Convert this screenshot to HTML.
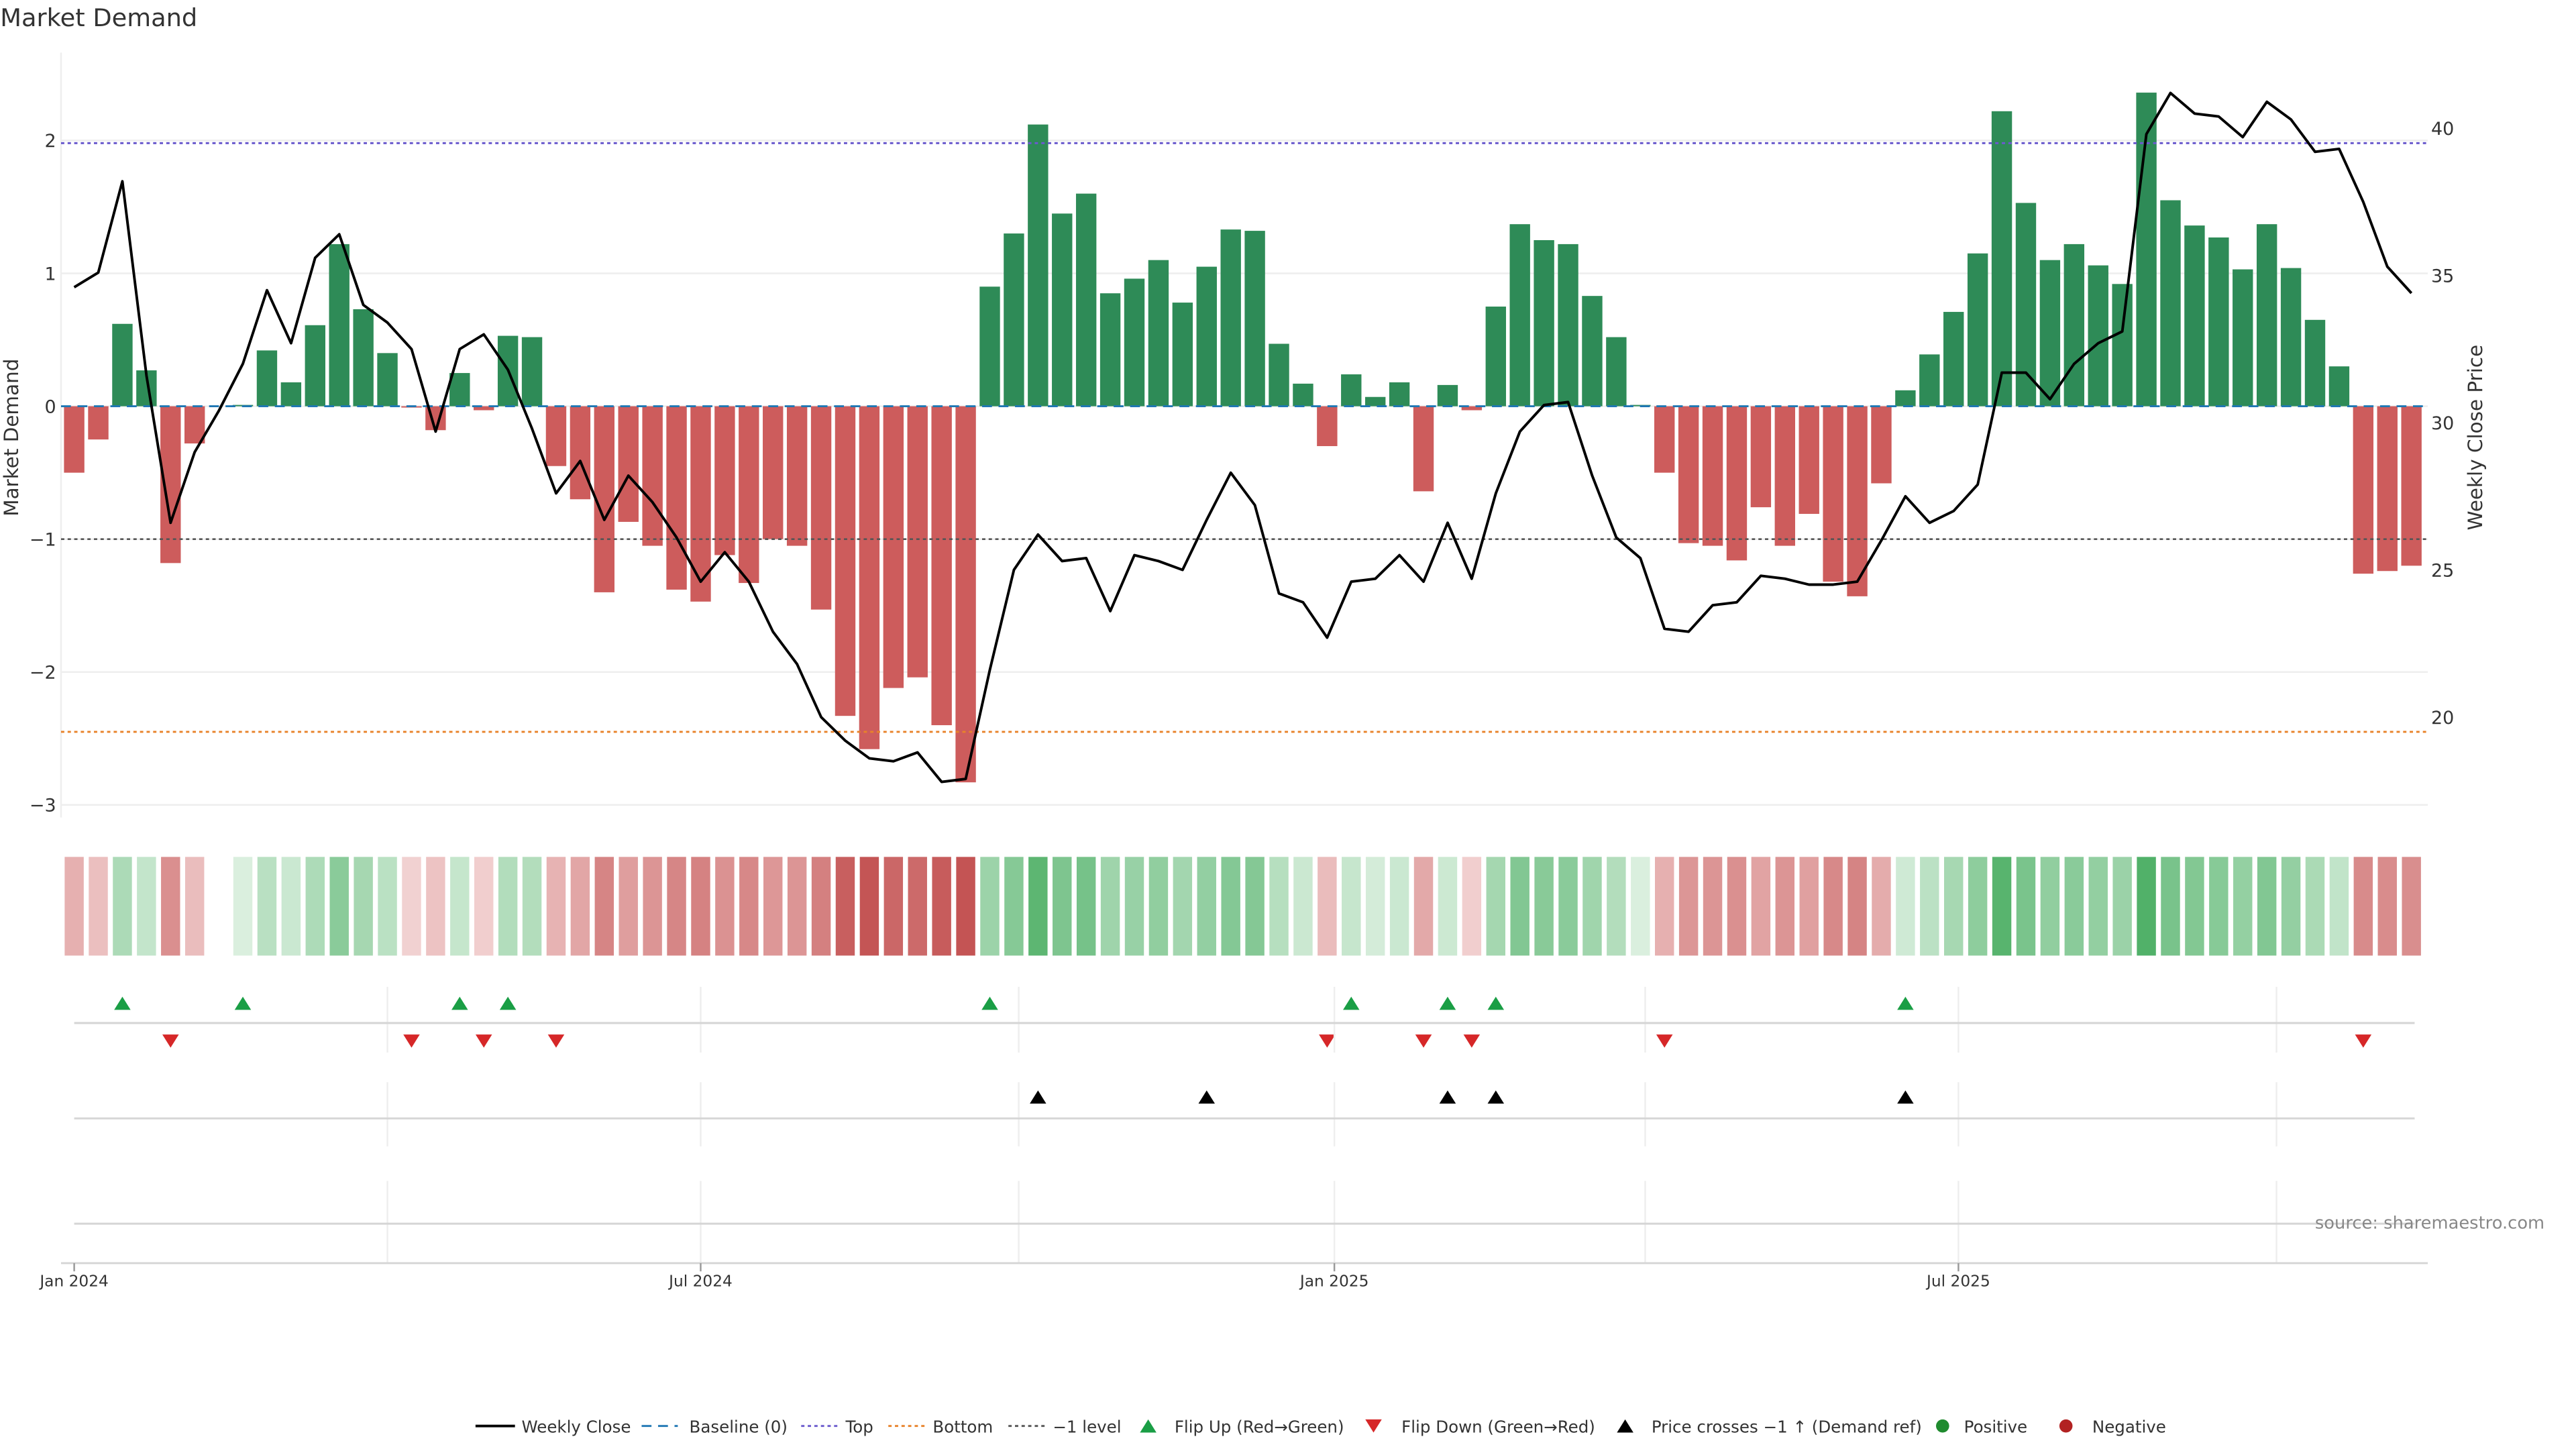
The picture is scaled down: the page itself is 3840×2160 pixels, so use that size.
<!DOCTYPE html>
<html><head><meta charset="utf-8"><style>
html,body{margin:0;padding:0;background:#fff}
svg{display:block}
text{font-family:"DejaVu Sans","Liberation Sans",sans-serif;fill:#333}
</style></head><body>
<svg id="chart" width="3840" height="2160" viewBox="0 0 1566 881" xmlns="http://www.w3.org/2000/svg">
<text x="0" y="16" font-size="15">Market Demand</text>
<g id="main"></g>
<g id="heat"></g>
<g id="flips"></g>
<g id="cross"></g>
<g id="axis"></g>
<g id="legend"></g>
</svg>
<script>
const demand=[-0.5,-0.25,0.62,0.27,-1.18,-0.28,0,0.01,0.42,0.18,0.61,1.22,0.73,0.4,-0.01,-0.18,0.25,-0.03,0.53,0.52,-0.45,-0.7,-1.4,-0.87,-1.05,-1.38,-1.47,-1.12,-1.33,-1.0,-1.05,-1.53,-2.33,-2.58,-2.12,-2.04,-2.4,-2.83,0.9,1.3,2.12,1.45,1.6,0.85,0.96,1.1,0.78,1.05,1.33,1.32,0.47,0.17,-0.3,0.24,0.07,0.18,-0.64,0.16,-0.03,0.75,1.37,1.25,1.22,0.83,0.52,0.01,-0.5,-1.03,-1.05,-1.16,-0.76,-1.05,-0.81,-1.32,-1.43,-0.58,0.12,0.39,0.71,1.15,2.22,1.53,1.1,1.22,1.06,0.92,2.36,1.55,1.36,1.27,1.03,1.37,1.04,0.65,0.3,-1.26,-1.24,-1.2];
const price=[34.6,35.1,38.2,31.6,26.6,29.0,30.4,32.0,34.5,32.7,35.6,36.4,34.0,33.4,32.5,29.7,32.5,33.0,31.8,29.8,27.6,28.7,26.7,28.2,27.3,26.1,24.6,25.6,24.6,22.9,21.8,20.0,19.2,18.6,18.5,18.8,17.8,17.9,21.6,25.0,26.2,25.3,25.4,23.6,25.5,25.3,25.0,26.7,28.3,27.2,24.2,23.9,22.7,24.6,24.7,25.5,24.6,26.6,24.7,27.6,29.7,30.6,30.7,28.2,26.1,25.4,23.0,22.9,23.8,23.9,24.8,24.7,24.5,24.5,24.6,26.0,27.5,26.6,27.0,27.9,31.7,31.7,30.8,32.0,32.7,33.1,39.8,41.2,40.5,40.4,39.7,40.9,40.3,39.2,39.3,37.5,35.3,34.4];
const flipUp=[2,7,16,18,38,53,57,59,76];
const flipDown=[4,14,17,20,52,56,58,66,95];
const priceCross=[40,47,57,59,76];
const leftTicks=[2,1,0,-1,-2,-3];
const rightTicks=[40,35,30,25,20];
const xTickLabels=["Jan 2024","Jul 2024","Jan 2025","Jul 2025"];
const xTickWeeks=[0,26,52.3,78.2];
const gridWeeks=[13,26,39.2,52.3,65.2,78.2,91.4];
const levels={top:1.98,bottom:-2.45,minus1:-1};

const NS="http://www.w3.org/2000/svg";
function el(tag,attrs,parent,text){const e=document.createElementNS(NS,tag);for(const k in attrs)e.setAttribute(k,attrs[k]);if(text!==undefined)e.textContent=text;parent.appendChild(e);return e;}
const X=i=>45+i*14.65;
const Y=v=>247-v*80.8;
const P=p=>78+(40-p)*17.9;
const main=document.getElementById('main'),heat=document.getElementById('heat'),flips=document.getElementById('flips'),cross=document.getElementById('cross'),axis=document.getElementById('axis'),legend=document.getElementById('legend');

leftTicks.forEach(t=>{
 const g=el('line',{x1:37,x2:1476,y1:Y(t),y2:Y(t),stroke:'#eee','stroke-width':1},main);
 
 
 const tx=el('text',{x:34,y:Y(t)+4,'font-size':11,'text-anchor':'end'},main,t<0?'\u2212'+Math.abs(t):String(t));
 
 
});
el('line',{x1:37,x2:37,y1:32,y2:497,stroke:'#eee'},main);
rightTicks.forEach(t=>{
 const tx=el('text',{x:1478,y:P(t)+4,'font-size':11},main,String(t));
 
 
});
let yl=el('text',{x:0,y:0,'font-size':12,'text-anchor':'middle',transform:'translate(11,266) rotate(-90)'},main,'Market Demand');


let yr=el('text',{x:0,y:0,'font-size':12,'text-anchor':'middle',transform:'translate(1509,266) rotate(-90)'},main,'Weekly Close Price');



demand.forEach((v,i)=>{
 if(v===0)return;
 const y0=Y(0),y1=Y(v);
 const r=el('rect',{x:X(i)-6.2,y:Math.min(y0,y1),width:12.4,height:Math.max(Math.abs(y1-y0),0.6),fill:v>0?'#2e8b57':'#cd5c5c'},main);
 
 
});
let l;
l=el('line',{x1:37,x2:1476,y1:Y(0),y2:Y(0),stroke:'#1f77b4','stroke-width':1.2,'stroke-dasharray':'6,4'},main);

l=el('line',{x1:37,x2:1476,y1:Y(levels.top),y2:Y(levels.top),stroke:'#6a5acd','stroke-width':1.2,'stroke-dasharray':'2,2'},main);

l=el('line',{x1:37,x2:1476,y1:Y(levels.bottom),y2:Y(levels.bottom),stroke:'#e8822a','stroke-width':1.2,'stroke-dasharray':'2,2'},main);

l=el('line',{x1:37,x2:1476,y1:Y(levels.minus1),y2:Y(levels.minus1),stroke:'#555','stroke-width':1.1,'stroke-dasharray':'2,2'},main);

const pl=el('polyline',{points:price.map((p,i)=>X(i)+','+P(p)).join(' '),fill:'none',stroke:'#000','stroke-width':1.6,'stroke-linejoin':'round'},main);



function mix(a,b,t){return 'rgb('+a.map((c,k)=>Math.round(c+(b[k]-c)*t)).join(',')+')';}
demand.forEach((v,i)=>{
 if(v===0)return;
 const t=Math.min(Math.abs(v)/2.6,1);
 const col=v>0?mix([220,240,224],[70,172,95],Math.pow(t,0.8)):mix([242,210,210],[196,84,84],Math.pow(t,0.8));
 const r=el('rect',{x:X(i)-5.8,y:521,width:11.6,height:60,fill:col},heat);
 
 
});

[[600,640,622],[658,697,680],[718,768,744]].forEach(([a,b,c])=>{
 gridWeeks.forEach(w=>el('line',{x1:X(w),x2:X(w),y1:a,y2:b,stroke:'#eee'},axis));
 el('line',{x1:45,x2:1468,y1:c,y2:c,stroke:'#d5d5d5','stroke-width':1.2},axis);
});
el('line',{x1:37,x2:1476,y1:768,y2:768,stroke:'#d5d5d5','stroke-width':1.2},axis);
xTickLabels.forEach((t,k)=>{
 el('line',{x1:X(xTickWeeks[k]),x2:X(xTickWeeks[k]),y1:768,y2:773,stroke:'#999'},axis);
 const tx=el('text',{x:X(xTickWeeks[k]),y:782,'font-size':9.5,'text-anchor':'middle'},axis,t);
 
 
});
const src=el('text',{x:1547,y:747,'font-size':10.5,'text-anchor':'end',style:'fill:#888'},axis,'source: sharemaestro.com');



function tri(x,y,up,col,parent,name){
 const d=up?`M${x-5},${y+4} L${x+5},${y+4} L${x},${y-4} Z`:`M${x-5},${y-4} L${x+5},${y-4} L${x},${y+4} Z`;
 const p=el('path',{d:d,fill:col},parent);
 
 
}
flipUp.forEach(i=>tri(X(i),610,true,'#1a9e45',flips,'flip-up-marker'));
flipDown.forEach(i=>tri(X(i),633,false,'#d62728',flips,'flip-down-marker'));
priceCross.forEach(i=>tri(X(i),667,true,'#000',cross,'price-cross-marker'));

const ly=867;
function lt(x,t){const e=el('text',{x:x,y:ly+4,'font-size':10,textLength:undefined},legend,t);}
el('line',{x1:289,x2:313,y1:ly,y2:ly,stroke:'#000','stroke-width':1.6},legend);lt(317,'Weekly Close');
el('line',{x1:390,x2:412,y1:ly,y2:ly,stroke:'#1f77b4','stroke-width':1.2,'stroke-dasharray':'6,4'},legend);lt(419,'Baseline (0)');
el('line',{x1:487,x2:509,y1:ly,y2:ly,stroke:'#6a5acd','stroke-width':1.2,'stroke-dasharray':'2,2'},legend);lt(514,'Top');
el('line',{x1:540,x2:562,y1:ly,y2:ly,stroke:'#e8822a','stroke-width':1.2,'stroke-dasharray':'2,2'},legend);lt(567,'Bottom');
el('line',{x1:613,x2:635,y1:ly,y2:ly,stroke:'#555','stroke-width':1.2,'stroke-dasharray':'2,2'},legend);lt(640,'\u22121 level');
tri(698,ly,true,'#1a9e45',legend,'legend-flip-up');lt(714,'Flip Up (Red\u2192Green)');
tri(835,ly,false,'#d62728',legend,'legend-flip-down');lt(852,'Flip Down (Green\u2192Red)');
tri(988,ly,true,'#000',legend,'legend-price-cross');lt(1004,'Price crosses \u22121 \u2191 (Demand ref)');
el('circle',{cx:1181,cy:ly,r:4,fill:'#1f8b2f'},legend);lt(1194,'Positive');
el('circle',{cx:1256,cy:ly,r:4,fill:'#b22222'},legend);lt(1272,'Negative');
</script>
</body></html>
